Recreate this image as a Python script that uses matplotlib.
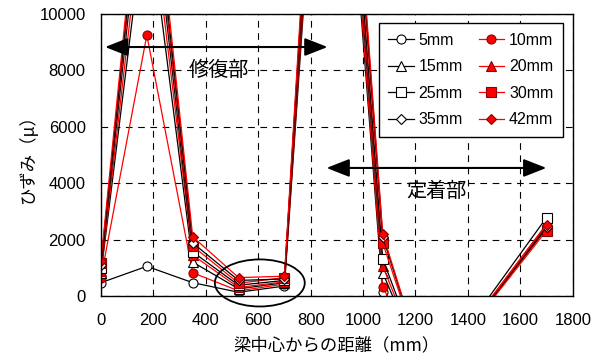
import matplotlib
matplotlib.use('Agg')
import matplotlib.pyplot as plt
from matplotlib.patches import Ellipse

plt.rcParams['font.family'] = ['Noto Sans CJK JP', 'DejaVu Sans']

# measuring points along the beam (mm); some values run off the chart
dist = [0, 175, 350, 525, 700, 875, 1075, 1250, 1700]

labels = ['5mm', '10mm', '15mm', '20mm', '25mm', '30mm', '35mm', '42mm']
strain = {
    '5mm':  [470, 1050, 470, 130, 350, 24000, 150, -3000, 2400],
    '10mm': [650, 9250, 820, 180, 420, 24500, 330, -3000, 2450],
    '15mm': [800, 14000, 1200, 250, 470, 25000, 820, -3000, 2500],
    '20mm': [870, 15000, 1450, 300, 500, 25500, 1060, -3000, 2550],
    '25mm': [1000, 16000, 1560, 380, 550, 26000, 1310, -3000, 2780],
    '30mm': [1180, 16500, 1770, 450, 650, 26500, 1880, -3000, 2320],
    '35mm': [1100, 17000, 1880, 550, 600, 27000, 2100, -3000, 2450],
    '42mm': [1250, 17500, 2100, 650, 700, 27500, 2200, -3000, 2520],
}
markers = {'5mm': 'o', '10mm': 'o', '15mm': '^', '20mm': '^',
           '25mm': 's', '30mm': 's', '35mm': 'D', '42mm': 'D'}

fig = plt.figure(figsize=(6.01, 3.6), dpi=100)
ax = fig.add_axes([0.168, 0.178, 0.785, 0.783])

for name in labels:
    red = name in ('10mm', '20mm', '30mm', '42mm')
    ms = 5 if markers[name] == 'D' else 6.5
    ax.plot(dist, strain[name], color='red' if red else 'black', lw=0.9,
            marker=markers[name], ms=ms, mfc='red' if red else 'white',
            mec='#8b0000' if red else 'black', mew=0.8, label=name)

ax.set_xlim(0, 1800)
ax.set_ylim(0, 10000)
ax.set_xticks(range(0, 1801, 200))
ax.set_yticks(range(0, 10001, 2000))
ax.grid(True, color='black', ls=(0, (6, 5)), lw=0.8)
ax.tick_params(length=0, labelsize=12)
ax.tick_params(axis='x', pad=12)
ax.tick_params(axis='y', pad=11)
for lab in ax.get_xticklabels() + ax.get_yticklabels():
    lab.set_family(['Liberation Sans'])
for s in ax.spines.values():
    s.set_linewidth(1.0)

ax.set_xlabel('梁中心からの距離（mm）', fontsize=12.5, labelpad=6)
ax.set_ylabel('ひずみ（μ）', fontsize=12.5, labelpad=2)

# region arrows
arrow = dict(arrowstyle='<|-|>,head_length=1.4,head_width=0.55',
             color='black', lw=1.5)
ax.annotate('', xy=(5, 8830), xytext=(875, 8830), arrowprops=arrow)
ax.text(450, 8000, '修復部', fontsize=14.5, ha='center', va='center')
ax.annotate('', xy=(850, 4540), xytext=(1710, 4540), arrowprops=arrow)
ax.text(1280, 3700, '定着部', fontsize=14.5, ha='center', va='center')

ax.add_patch(Ellipse((606, 460), 343, 1670, fill=False, ec='black', lw=1.3,
                     clip_on=False, zorder=5))

handles, labs = ax.get_legend_handles_labels()
order = [0, 2, 4, 6, 1, 3, 5, 7]
leg = ax.legend([handles[i] for i in order], [labs[i] for i in order],
                ncol=2, loc='upper right', bbox_to_anchor=(0.979, 0.968),
                fancybox=False, framealpha=1, edgecolor='black',
                handlelength=1.6, handletextpad=0.3, columnspacing=1.0,
                labelspacing=0.72, borderpad=0.6, borderaxespad=0,
                prop={'family': ['Liberation Sans'], 'size': 11.5})
leg.get_frame().set_linewidth(1.0)

fig.savefig('out.png', dpi=100)
